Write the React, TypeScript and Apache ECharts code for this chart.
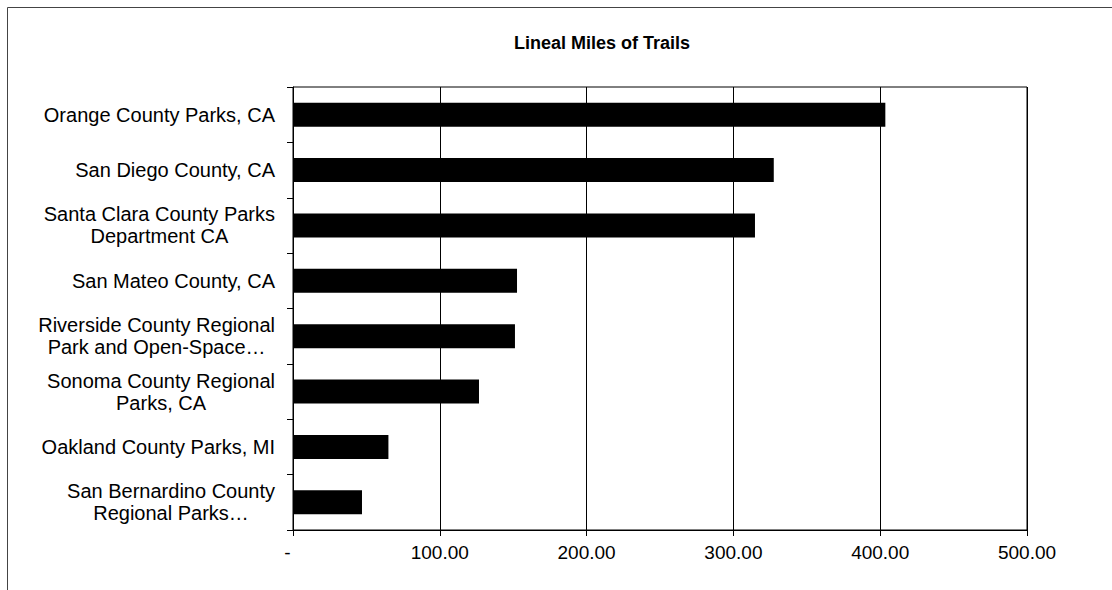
import React, { useEffect, useRef } from "react";
import * as echarts from "echarts";

const chartTitle = "Lineal Miles of Trails";

const categories: string[] = [
  "Orange County Parks, CA",
  "San Diego County, CA",
  "Santa Clara County Parks\nDepartment CA",
  "San Mateo County, CA",
  "Riverside County Regional\nPark and Open-Space…",
  "Sonoma County Regional\nParks, CA",
  "Oakland County Parks, MI",
  "San Bernardino County\nRegional Parks…",
];

const lienalMiles: number[] = [403.5, 327.5, 314.7, 152.6, 151.2, 126.7, 65, 47];

const xMin = 0;
const xMax = 500;
const xStep = 100;

const FONT = '"Liberation Sans", Arial, Helvetica, sans-serif';

export default function App() {
  const ref = useRef<HTMLDivElement>(null);

  useEffect(() => {
    if (!ref.current) return;
    const chart = echarts.init(ref.current, undefined, { renderer: "svg" });
    chart.setOption({
      animation: false,
      backgroundColor: "#ffffff",
      textStyle: { fontFamily: FONT },
      grid: {
        left: 293,
        right: 85,
        top: 87,
        bottom: 60,
        show: true,
        borderColor: "#000",
        borderWidth: 1,
        containLabel: false,
      },
      graphic: [
        {
          type: "rect",
          silent: true,
          shape: { x: 7.5, y: 7.5, width: 1300, height: 800 },
          style: { fill: "none", stroke: "#444", lineWidth: 1 },
        },
        {
          type: "text",
          silent: true,
          x: 602,
          y: 43,
          style: {
            text: chartTitle,
            align: "center",
            verticalAlign: "middle",
            fontFamily: FONT,
            fontWeight: "bold",
            fontSize: 18,
            fill: "#000",
          },
        },
      ],
      xAxis: {
        type: "value",
        min: xMin,
        max: xMax,
        interval: xStep,
        axisLine: { show: true, lineStyle: { color: "#000", width: 1 } },
        axisTick: { show: true, length: 6, lineStyle: { color: "#000" } },
        splitLine: { show: true, lineStyle: { color: "#000", width: 1 } },
        axisLabel: {
          margin: 13,
          fontSize: 19,
          fontFamily: FONT,
          color: "#000",
          formatter: (v: number) => (v === 0 ? "{d|-}" : v.toFixed(2)),
          rich: {
            d: { fontSize: 19, fontFamily: FONT, color: "#000", padding: [0, 11, 0, 0] },
          },
        },
      },
      yAxis: {
        type: "category",
        data: categories,
        inverse: true,
        axisLine: { show: true, lineStyle: { color: "#000", width: 1 } },
        axisTick: { show: true, length: 6, lineStyle: { color: "#000" } },
        splitLine: { show: false },
        axisLabel: {
          margin: 18,
          color: "#000",
          fontSize: 20,
          fontFamily: FONT,
          lineHeight: 22,
          formatter: (v: string) =>
            v
              .split("\n")
              .map((l) => `{c|${l}}`)
              .join("\n"),
          rich: {
            c: {
              align: "center",
              fontSize: 20,
              fontFamily: FONT,
              color: "#000",
              lineHeight: 22,
            },
          },
        },
      },
      series: [
        {
          type: "bar",
          data: lienalMiles,
          barWidth: 24,
          itemStyle: { color: "#000" },
        },
      ],
    });
    return () => chart.dispose();
  }, []);

  return (
    <div
      ref={ref}
      style={{ position: "absolute", left: 0, top: 0, width: 1112, height: 590 }}
    />
  );
}
